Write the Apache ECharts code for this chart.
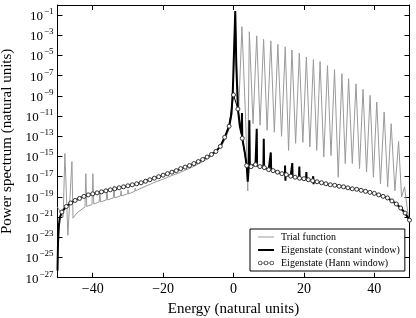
<!DOCTYPE html>
<html><head><meta charset="utf-8">
<script src="https://cdn.jsdelivr.net/npm/echarts@6/dist/echarts.min.js"></script>
<style>html,body{margin:0;padding:0;background:#fff}#c{width:416px;height:318px}</style>
</head><body><div id="c"></div>
<script>
// Power values are stored as log10(power)
const xTicks = [-40, -20, 0, 20, 40];
const yTicks = [-27, -25, -23, -21, -19, -17, -15, -13, -11, -9, -7, -5, -3, -1];
const seriesNames = ['Trial function', 'Eigenstate (constant window)', 'Eigenstate (Hann window)'];

const hannEnergy = [-48.75,-47.5,-46.25,-45,-43.75,-42.5,-41.25,-40,-38.75,-37.5,-36.25,-35,-33.75,-32.5,-31.25,-30,-28.75,-27.5,-26.25,-25,-23.75,-22.5,-21.25,-20,-18.75,-17.5,-16.25,-15,-13.75,-12.5,-11.25,-10,-8.75,-7.5,-6.25,-5,-3.75,-2.5,-1.25,0,1.25,2.5,3.75,5,6.25,7.5,8.75,10,11.25,12.5,13.75,15,16.25,17.5,18.75,20,21.25,22.5,23.75,25,26.25,27.5,28.75,30,31.25,32.5,33.75,35,36.25,37.5,38.75,40,41.25,42.5,43.75,45,46.25,47.5,48.75,50];
const hannLogPower = [-20.5,-19.95,-19.6,-19.35,-19.15,-18.95,-18.8,-18.7,-18.6,-18.5,-18.4,-18.3,-18.2,-18.1,-18.0,-17.9,-17.8,-17.7,-17.6,-17.45,-17.3,-17.15,-17.0,-16.85,-16.7,-16.55,-16.4,-16.2,-16.05,-15.9,-15.7,-15.5,-15.3,-15.05,-14.8,-14.5,-14.0,-13.1,-12.0,-8.9,
-10.3,-13.2,-15.9,-16.0,-15.8,-16.0,-16.1,-16.3,-16.4,-16.55,-16.7,-16.8,-16.95,-17.05,-17.15,-17.2,-17.3,-17.4,-17.5,-17.6,-17.7,-17.8,-17.85,-17.95,-18.0,-18.1,-18.2,-18.25,-18.35,-18.45,-18.55,-18.65,-18.8,-18.95,-19.1,-19.4,-19.7,-20.1,-20.6,-21.3];

const constantWindow = [[-50,-26.3],[-49.85,-23.5],[-49.6,-21.8],[-49.3,-21.0],[-48.75,-20.5],[-47.5,-19.95],[-46.25,-19.6],[-45,-19.35],[-43.75,-19.15],[-42.5,-18.95],[-41.25,-18.8],[-40,-18.7],[-38.75,-18.6],[-37.5,-18.5],[-36.25,-18.4],[-35,-18.3],[-33.75,-18.2],[-32.5,-18.1],[-31.25,-18.0],[-30,-17.9],[-28.75,-17.8],[-27.5,-17.7],[-26.25,-17.6],[-25,-17.45],[-23.75,-17.3],[-22.5,-17.15],[-21.25,-17.0],[-20,-16.85],[-18.75,-16.7],[-17.5,-16.55],[-16.25,-16.4],[-15,-16.2],[-13.75,-16.05],[-12.5,-15.9],[-11.25,-15.7],[-10,-15.5],[-8.75,-15.3],[-7.5,-15.05],[-6.25,-14.8],[-5,-14.5],[-3.75,-14.0],[-2.5,-13.1],[-1.25,-12.0],
[-0.6,-10.8],[-0.2,-8.6],[0.2,-4.0],[0.5,-0.6],[0.8,-6.0],[1.25,-10.3],[1.8,-12.0],[2.3,-12.8],[2.4,-10.7],[2.5,-13.2],[3.2,-14.6],[3.75,-15.9],[4.05,-17.5],[4.35,-16.0],[4.5,-11.4],[4.65,-15.95],[5,-16.0],[6.25,-15.8],[6.5,-15.85],[6.6,-12.25],[6.7,-15.9],[7.5,-16.0],[8.5,-16.05],[8.6,-13.25],[8.7,-16.1],[10,-16.3],[10.5,-16.35],[10.6,-14.6],[10.7,-16.35],[11.25,-16.4],[12.5,-16.55],[13.75,-16.7],[14.6,-16.75],[14.65,-15.9],[14.75,-17.4],[14.8,-16.8],[15,-16.8],[16.25,-16.95],[16.6,-17.0],[16.7,-15.65],[16.8,-17.0],[17.5,-17.05],[18.6,-17.15],[18.7,-16.0],[18.8,-17.15],[20,-17.2],[20.6,-17.25],[20.7,-16.55],[20.8,-17.25],[21.25,-17.3],[22.5,-17.4],[22.65,-16.95],[22.75,-17.75],[22.8,-17.4],[23.75,-17.5],
[25,-17.6],[26.25,-17.7],[27.5,-17.8],[28.75,-17.85],[30,-17.95],[31.25,-18.0],[32.5,-18.1],[33.75,-18.2],[35,-18.25],[36.25,-18.35],[37.5,-18.45],[38.75,-18.55],[40,-18.65],[41.25,-18.8],[42.5,-18.95],[43.75,-19.1],[45,-19.4],[46.25,-19.7],[47.5,-20.1],[48.75,-20.6],[50,-21.3]];

const trialFunction = [[-50,-20.0],[-48.4,-21.0],[-47.9,-14.7],[-47.05,-22.8],[-45.9,-15.5],[-45.6,-21.1],[-44.5,-20.6],[-43,-20.2],[-42.2,-20.0],[-41.95,-16.7],[-41.7,-19.95],[-40.2,-19.75],[-39.95,-16.7],[-39.7,-19.7],[-38.15,-19.5],[-37.95,-18.4],[-37.75,-19.5],[-36.15,-19.3],[-35.95,-18.2],[-35.75,-19.3],[-34.15,-19.1],[-33.95,-17.9],[-33.75,-19.1],[-32.1,-18.9],[-31.95,-18.4],[-31.8,-18.9],[-30.1,-18.7],[-29.95,-18.3],[-29.8,-18.7],[-28.1,-18.45],[-27.95,-18.15],[-27.8,-18.4],[-26,-18.1],[-24,-17.8],[-22,-17.5],[-20,-17.25],[-18,-16.95],[-16,-16.7],[-14,-16.4],[-12,-16.1],[-10,-15.75],[-8,-15.35],[-6,-14.9],[-4.5,-14.4],[-3,-13.7],[-2,-13.0],[-1.2,-12.2],[-0.6,-11.2],[-0.2,-9.5],[0.2,-5.0],[0.5,-0.6],[0.9,-6.0],[1.5,-10.1],
[2.4,-2.15],[3.45,-11.3],[4.05,-18.4],[4.2,-11.6],[4.5,-2.65],[5.55,-11.75],[6.6,-3.05],[7.55,-11.9],[8.55,-3.4],[9.55,-12.4],[10.6,-3.55],[11.6,-12.6],[12.6,-3.9],[13.65,-13.0],[14.7,-4.15],[15.65,-14.4],[16.6,-4.45],[17.65,-13.7],[18.7,-4.75],[19.7,-13.6],[20.7,-5.15],[21.7,-14.05],[22.7,-5.4],[23.65,-14.4],[24.6,-5.6],[25.65,-15.05],[26.7,-6.0],[27.7,-14.9],[28.7,-6.4],[29.75,-17.05],[30.8,-6.8],[31.75,-15.7],[32.7,-7.3],[33.75,-15.7],[34.8,-7.8],[35.8,-16.2],[36.8,-8.35],[37.8,-16.55],[38.8,-8.95],[39.75,-17.05],[40.7,-9.6],[41.75,-17.7],[42.8,-10.6],[43.8,-18.0],[44.8,-11.75],[45.85,-18.4],[46.9,-13.5],[47.75,-19.0],[48.6,-18.0],[49.3,-20.0],[50,-21.5]];

const serif = 'Liberation Serif';
const minus = n => (n < 0 ? '\u2212' : '') + Math.abs(n);
const hannData = hannEnergy.map((e, i) => [e, hannLogPower[i]]);

// legend glyphs: thin line, thick line, line joining three open circles
const ring = cx => 'M' + (cx - 2.2) + ',2.5A2.2,2.2,0,1,1,' + (cx + 2.2) + ',2.5A2.2,2.2,0,1,1,' + (cx - 2.2) + ',2.5Z' +
  'M' + (cx - 1.4) + ',2.5A1.4,1.4,0,1,0,' + (cx + 1.4) + ',2.5A1.4,1.4,0,1,0,' + (cx - 1.4) + ',2.5Z';
const hannIcon = 'path://' + ring(2.2) + ring(8) + ring(13.8) + 'M4.4,2.1H5.8V2.9H4.4Z M10.2,2.1H11.6V2.9H10.2Z';

const frameAxis = {
  axisLine: {show: true, onZero: false, lineStyle: {color: '#000', width: 1}},
  splitLine: {show: false}
};

const chart = echarts.init(document.getElementById('c'));
chart.setOption({
  animation: false,
  backgroundColor: '#fff',
  grid: {left: 57.5, right: 6.5, top: 5, bottom: 40.3, containLabel: false, outerBoundsMode: 'none'},
  xAxis: [
    Object.assign({}, frameAxis, {
      type: 'value', min: -50, max: 50, position: 'bottom',
      axisTick: {show: true, inside: true, length: 5, customValues: xTicks, lineStyle: {color: '#000'}},
      axisLabel: {show: true, customValues: xTicks, formatter: v => minus(v), fontFamily: serif, fontSize: 14, color: '#000', margin: 5},
      name: 'Energy (natural units)', nameLocation: 'middle', nameGap: 17,
      nameTextStyle: {fontFamily: serif, fontSize: 15, color: '#000'}
    }),
    Object.assign({}, frameAxis, {
      type: 'value', min: -50, max: 50, position: 'top',
      axisTick: {show: true, inside: true, length: 5, customValues: xTicks, lineStyle: {color: '#000'}},
      axisLabel: {show: false}
    })
  ],
  yAxis: [
    Object.assign({}, frameAxis, {
      type: 'value', min: -27, max: 0, position: 'left',
      axisTick: {show: true, inside: true, length: 5, customValues: yTicks, lineStyle: {color: '#000'}},
      axisLabel: {show: true, customValues: yTicks, margin: 4,
        formatter: v => '{b|10}{s|' + minus(Math.round(v)) + '}',
        rich: {
          b: {fontFamily: serif, fontSize: 13, color: '#000', lineHeight: 16, verticalAlign: 'bottom'},
          s: {fontFamily: serif, fontSize: 9, color: '#000', lineHeight: 16, verticalAlign: 'top', padding: [0, 0, 0, 1]}
        }},
      name: 'Power spectrum (natural units)', nameLocation: 'middle', nameGap: 38,
      nameTextStyle: {fontFamily: serif, fontSize: 15, color: '#000'}
    }),
    Object.assign({}, frameAxis, {
      type: 'value', min: -27, max: 0, position: 'right',
      axisTick: {show: true, inside: true, length: 5, customValues: yTicks, lineStyle: {color: '#000'}},
      axisLabel: {show: false}
    })
  ],
  legend: {
    orient: 'vertical', left: 250, top: 229,
    padding: [3, 5, 3, 8], itemGap: 3, itemWidth: 16, itemHeight: 10,
    borderColor: '#000', borderWidth: 1, borderRadius: 0, backgroundColor: '#fff',
    textStyle: {fontFamily: serif, fontSize: 10, color: '#000', padding: [0, 0, 0, 2]},
    data: [
      {name: seriesNames[0], icon: 'path://M0,0H16V1H0Z', itemStyle: {color: '#9a9a9a', borderWidth: 0}},
      {name: seriesNames[1], icon: 'path://M0,0H16V2H0Z', itemStyle: {color: '#000', borderWidth: 0}},
      {name: seriesNames[2], icon: hannIcon, itemStyle: {color: '#444', borderWidth: 0}}
    ]
  },
  series: [
    {name: seriesNames[0], type: 'line', data: trialFunction, symbol: 'none', z: 2,
      lineStyle: {color: '#9a9a9a', width: 1}, itemStyle: {color: '#9a9a9a'}},
    {name: seriesNames[1], type: 'line', data: constantWindow, symbol: 'none', z: 3,
      lineStyle: {color: '#000', width: 2}, itemStyle: {color: '#000'}},
    {name: seriesNames[2], type: 'line', data: hannData, symbol: 'circle', symbolSize: 4, showSymbol: true, z: 4,
      lineStyle: {color: '#000', width: 1}, itemStyle: {color: '#fff', borderColor: '#333', borderWidth: 1}}
  ]
});
</script></body></html>
